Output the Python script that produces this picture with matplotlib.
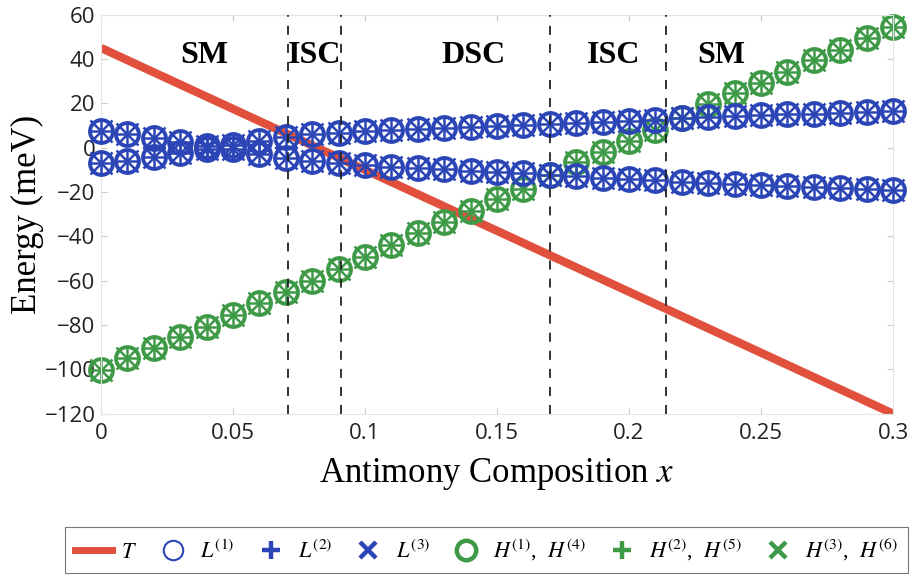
import matplotlib
matplotlib.use('Agg')
import matplotlib.pyplot as plt
from matplotlib.lines import Line2D

plt.rcParams['mathtext.fontset'] = 'stix'

# composition grid and band energies (meV)
composition = [0.00, 0.01, 0.02, 0.03, 0.04, 0.05, 0.06, 0.07, 0.08, 0.09,
               0.10, 0.11, 0.12, 0.13, 0.14, 0.15, 0.16, 0.17, 0.18, 0.19,
               0.20, 0.21, 0.22, 0.23, 0.24, 0.25, 0.26, 0.27, 0.28, 0.29, 0.30]

light_upper = [7.5, 6.2, 4.5, 2.5, 0.8, 1.0, 3.0, 4.8, 6.0, 6.8,
               7.5, 8.0, 8.5, 9.0, 9.4, 9.8, 10.2, 10.6, 11.0, 11.5,
               12.0, 12.7, 13.3, 13.8, 14.2, 14.6, 15.0, 15.4, 15.8, 16.2, 16.6]

light_lower = [-7.0, -5.8, -4.2, -2.2, -0.6, -0.8, -2.8, -4.8, -6.0, -7.0,
               -8.0, -8.6, -9.2, -9.8, -10.4, -11.0, -11.6, -12.3, -12.9, -13.5,
               -14.1, -14.7, -15.3, -15.8, -16.3, -16.8, -17.3, -17.8, -18.3, -18.8, -19.3]

heavy = [-100.3, -95.0, -90.5, -85.5, -80.7, -75.5, -70.2, -65.0, -60.0, -54.8,
         -49.5, -44.0, -38.6, -33.4, -28.4, -23.3, -18.5, -12.4, -6.3, -2.0,
         2.8, 8.0, 13.5, 19.5, 24.5, 29.0, 34.3, 39.4, 44.1, 49.3, 54.6]

# T line end points
t_comp = [0.0, 0.3]
t_energy = [45.0, -120.0]

# region boundaries and labels
boundaries = [0.071, 0.091, 0.170, 0.214]
regions = ['SM', 'ISC', 'DSC', 'ISC', 'SM']
region_x = [0.039, 0.081, 0.141, 0.194, 0.235]

blue = '#2b45b6'
green = '#3e9a47'
red = '#e0503c'

fig = plt.figure(figsize=(9.16, 5.79), dpi=100)
ax = fig.add_axes([0.1103, 0.2855, 0.8646, 0.6891])

ax.plot(t_comp, t_energy, color=red, lw=6, solid_capstyle='butt', zorder=1)

xs = composition + composition
for mk, mew in [('o', 2.8), ('+', 1.8), ('x', 1.8)]:
    ax.plot(composition, heavy, ls='none', marker=mk, ms=16.5, mew=mew,
            mfc='none', mec=green, clip_on=False, zorder=2)
for mk, mew in [('o', 2.8), ('+', 1.8), ('x', 1.8)]:
    ax.plot(xs, light_upper + light_lower, ls='none', marker=mk, ms=16.5, mew=mew,
            mfc='none', mec=blue, clip_on=False, zorder=3)

for b in boundaries:
    ax.axvline(b, color='#222222', lw=1.3, ls=(0, (5, 5)), zorder=4)

for name, xp in zip(regions, region_x):
    ax.text(xp, 41.5, name, ha='center', va='center', fontsize=23,
            fontweight='bold', family='Liberation Serif', zorder=5)

ax.set_xlim(0, 0.3)
ax.set_ylim(-120, 60)
ax.set_xticks([0, 0.05, 0.1, 0.15, 0.2, 0.25, 0.3])
ax.set_xticklabels(['0', '0.05', '0.1', '0.15', '0.2', '0.25', '0.3'])
ax.set_yticks(range(-120, 61, 20))
for lab in ax.get_xticklabels() + ax.get_yticklabels():
    lab.set_family('Open Sans')
    lab.set_fontsize(16)
    lab.set_color('#222222')
ax.tick_params(direction='in', length=4, color='#cccccc', pad=4,
               top=True, right=True)
ax.tick_params(axis='x', pad=7)
for s in ax.spines.values():
    s.set_color('#e4e4e4')
    s.set_linewidth(0.8)

ax.set_xlabel('Antimony Composition $x$', fontsize=25, family='Liberation Serif',
              labelpad=8)
ax.set_ylabel('Energy (meV)', fontsize=25, family='Liberation Serif', labelpad=0)

handles = [
    Line2D([], [], color=red, lw=5),
    Line2D([], [], ls='none', marker='o', ms=14, mew=1.5, mfc='none', mec=blue),
    Line2D([], [], ls='none', marker='+', ms=13, mew=3.2, mec=blue),
    Line2D([], [], ls='none', marker='x', ms=11, mew=3.2, mec=blue),
    Line2D([], [], ls='none', marker='o', ms=14, mew=3.2, mfc='none', mec=green),
    Line2D([], [], ls='none', marker='+', ms=13, mew=3.2, mec=green),
    Line2D([], [], ls='none', marker='x', ms=11, mew=3.2, mec=green),
]
labels = ['$T$', '$L^{(1)}$', '$L^{(2)}$', '$L^{(3)}$',
          '$H^{(1)}$,  $H^{(4)}$', '$H^{(2)}$,  $H^{(5)}$', '$H^{(3)}$,  $H^{(6)}$']
leg = fig.legend(handles, labels, loc='center', bbox_to_anchor=(0.531, 0.05),
                 ncol=7, frameon=True, fancybox=False, edgecolor='#555555',
                 handlelength=1.65, handletextpad=0.4, columnspacing=0.8,
                 prop={'family': 'Liberation Serif', 'size': 16},
                 borderpad=0.45)
leg.get_frame().set_linewidth(0.8)

fig.savefig('out.png', dpi=100)
